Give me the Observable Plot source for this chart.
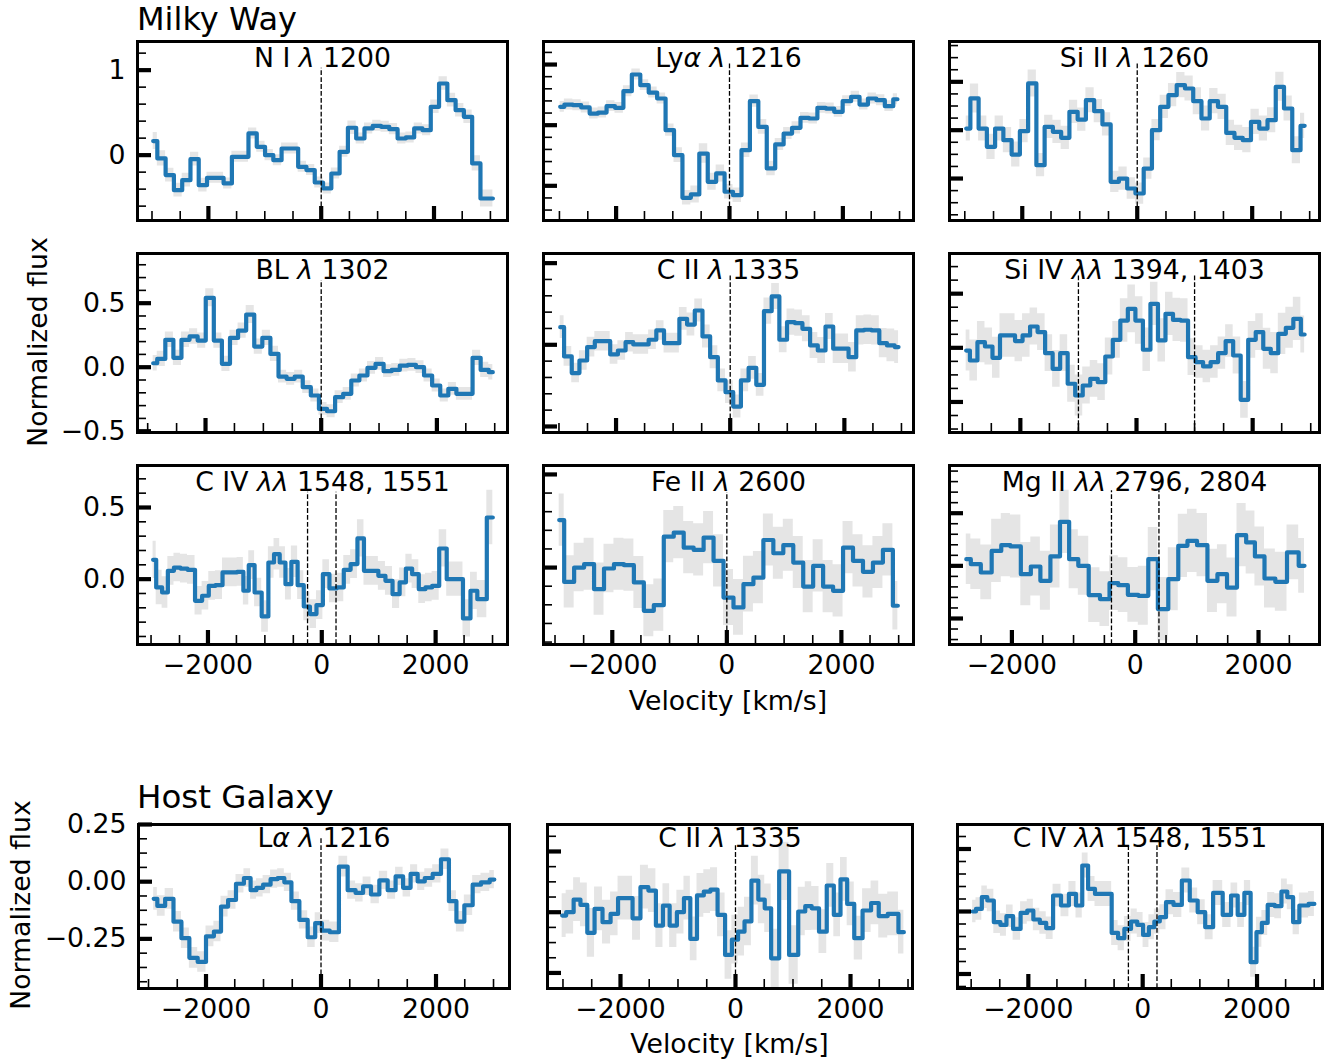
<!DOCTYPE html>
<html><head><meta charset="utf-8">
<script src="https://cdn.jsdelivr.net/npm/d3@7"></script>
<script src="https://cdn.jsdelivr.net/npm/@observablehq/plot@0.6"></script>
<style>
body{margin:0;background:#fff;}
#page{position:relative;width:1339px;height:1063px;overflow:hidden;background:#fff;font-family:"DejaVu Sans";color:#000;}
.panel{position:absolute;}
.panel svg{overflow:visible;display:block;}
</style></head><body><div id="page"></div>
<script>
// ---------- tick values ----------
const xMajorTicks = [-2000, 0, 2000];
const xMinorTicks = [-3000, -2500, -1500, -1000, -500, 500, 1000, 1500, 2500, 3000];

// ---------- Milky Way: N I 1200 ----------
const vNI = [-2979,-2832,-2685,-2538,-2391,-2245,-2098,-1951,-1804,-1657,-1510,-1363,-1216,-1069,-922,-776,-629,-482,-335,-188,-41,106,253,400,547,694,840,987,1134,1281,1428,1575,1722,1869,2016,2163,2310,2456,2603,2750,2897,3044];
const fNI = [0.165,-0.039,-0.235,-0.412,-0.294,-0.047,-0.353,-0.267,-0.267,-0.333,-0.020,-0.020,0.255,0.098,0.000,-0.059,0.078,0.078,-0.137,-0.176,-0.322,-0.392,-0.216,0.039,0.322,0.196,0.314,0.345,0.333,0.306,0.196,0.208,0.314,0.294,0.569,0.843,0.647,0.529,0.451,-0.098,-0.510,-0.510];
const eNI = [.1,.09,.08,.08,.08,.08,.08,.065,.065,.065,.065,.065,.065,.065,.065,.065,.065,.065,.065,.065,.065,.065,.065,.065,.08,.065,.065,.065,.065,.065,.065,.065,.065,.065,.08,.08,.08,.08,.08,.09,.1,.1];
const linesNI = [0];

// ---------- Milky Way: Ly alpha 1216 ----------
const vLya = [-2987,-2838,-2690,-2541,-2392,-2243,-2094,-1946,-1797,-1648,-1499,-1351,-1202,-1053,-904,-756,-607,-458,-309,-161,-12,137,286,434,583,732,881,1029,1178,1327,1476,1625,1773,1922,2071,2220,2368,2517,2666,2815,2963];
const fLya = [0.651,0.670,0.665,0.646,0.596,0.604,0.657,0.643,0.780,0.918,0.830,0.769,0.720,0.459,0.253,-0.099,-0.071,0.266,0.033,0.102,-0.049,-0.077,0.294,0.698,0.486,0.143,0.341,0.431,0.478,0.560,0.555,0.643,0.637,0.610,0.698,0.734,0.670,0.720,0.706,0.657,0.714];
const eLya = [.045,.045,.045,.045,.045,.045,.045,.045,.045,.045,.045,.045,.045,.05,.06,.06,.07,.08,.07,.07,.06,.06,.06,.05,.06,.06,.05,.05,.05,.045,.045,.045,.045,.045,.045,.045,.045,.045,.045,.045,.045];
const linesLya = [0];

// ---------- Milky Way: Si II 1260 ----------
const vSiII = [-2975,-2831,-2688,-2544,-2401,-2257,-2113,-1970,-1826,-1683,-1539,-1395,-1252,-1108,-965,-821,-677,-534,-390,-247,-103,41,184,328,471,615,759,902,1046,1189,1333,1477,1620,1764,1907,2051,2195,2338,2482,2625,2769,2913];
const fSiII = [0.017,0.328,0.017,-0.172,0.017,-0.103,-0.252,-0.010,0.483,-0.362,0.034,-0.017,-0.079,0.190,0.110,0.310,0.197,0.059,-0.534,-0.500,-0.603,-0.655,-0.397,0.000,0.241,0.362,0.466,0.431,0.300,0.121,0.300,0.241,-0.028,-0.079,-0.103,0.086,0.017,0.103,0.448,0.224,-0.207,0.045];
const eSiII = [.13,.15,.13,.13,.13,.13,.13,.12,.14,.12,.12,.12,.12,.12,.12,.13,.12,.12,.11,.12,.11,.11,.11,.11,.12,.12,.13,.13,.14,.13,.13,.13,.13,.13,.13,.13,.13,.13,.15,.13,.14,.13];
const linesSiII = [0];

// ---------- Milky Way: BL 1302 ----------
const vBL = [-2905,-2765,-2625,-2486,-2346,-2206,-2066,-1926,-1787,-1647,-1507,-1367,-1227,-1088,-948,-808,-668,-528,-389,-249,-109,31,171,310,450,590,730,870,1009,1149,1289,1429,1569,1708,1848,1988,2128,2268,2407,2547,2687,2827,2967];
const fBL = [0.031,0.065,0.214,0.073,0.214,0.240,0.208,0.542,0.208,0.026,0.229,0.286,0.411,0.161,0.229,0.104,-0.073,-0.091,-0.073,-0.156,-0.221,-0.326,-0.344,-0.234,-0.208,-0.104,-0.065,-0.005,0.026,-0.031,-0.021,0.013,0.018,0.000,-0.065,-0.143,-0.221,-0.169,-0.208,-0.208,0.073,-0.021,-0.039];
const eBL = [.06,.06,.06,.06,.06,.06,.06,.07,.06,.06,.06,.06,.07,.06,.06,.06,.05,.05,.05,.05,.05,.05,.05,.05,.05,.05,.05,.05,.05,.05,.05,.05,.05,.05,.05,.05,.05,.05,.05,.05,.06,.06,.06];
const linesBL = [0];

// ---------- Milky Way: C II 1335 ----------
const vCII = [-2978,-2843,-2709,-2574,-2439,-2305,-2170,-2035,-1900,-1766,-1631,-1496,-1362,-1227,-1092,-958,-823,-688,-553,-419,-284,-149,-15,120,255,390,524,659,794,928,1063,1198,1332,1467,1602,1737,1871,2006,2141,2275,2410,2545,2679,2814,2949];
const fCII = [0.108,-0.071,-0.173,-0.096,-0.014,0.022,0.022,-0.059,-0.035,0.016,0.002,0.002,0.031,0.088,0.010,0.010,0.159,0.124,0.210,0.051,-0.076,-0.218,-0.290,-0.378,-0.218,-0.141,-0.245,0.206,0.296,0.031,0.139,0.133,0.098,-0.004,-0.035,0.112,-0.024,-0.024,-0.076,0.088,0.092,0.088,0.010,-0.004,-0.014];
const eCII = [.07,.06,.06,.06,.06,.06,.06,.06,.06,.06,.06,.06,.06,.06,.06,.06,.07,.07,.07,.07,.07,.07,.07,.07,.07,.07,.07,.08,.08,.08,.08,.08,.08,.08,.08,.08,.09,.09,.09,.09,.09,.09,.09,.10,.10];
const linesCII = [0];

// ---------- Milky Way: Si IV 1394, 1403 ----------
const vSiIV = [-2933,-2804,-2674,-2545,-2415,-2286,-2156,-2027,-1897,-1768,-1638,-1509,-1379,-1250,-1120,-991,-861,-732,-602,-473,-343,-214,-84,46,175,305,434,564,693,823,952,1082,1211,1341,1470,1600,1729,1859,1988,2118,2247,2377,2506,2636,2765,2895];
const fSiIV = [-0.025,-0.117,0.052,0.012,-0.092,0.114,0.114,0.062,0.114,0.197,0.145,-0.049,-0.194,-0.049,-0.332,-0.440,-0.348,-0.286,-0.317,-0.080,0.074,0.252,0.360,0.252,-0.018,0.406,0.068,0.314,0.258,0.252,-0.086,-0.132,-0.172,-0.132,-0.049,0.062,-0.071,-0.480,0.074,0.145,-0.009,-0.049,0.129,0.185,0.268,0.123];
const eSiIV = [.19,.19,.19,.17,.19,.2,.2,.19,.2,.17,.17,.17,.17,.17,.17,.19,.17,.17,.17,.17,.17,.2,.22,.22,.2,.2,.2,.2,.2,.2,.17,.15,.15,.15,.15,.15,.17,.17,.17,.17,.19,.19,.19,.19,.2,.17];
const linesSiIV = [-1000, 1000];

// ---------- Milky Way: C IV 1548, 1551 ----------
const vCIV = [-2964,-2855,-2756,-2653,-2542,-2425,-2293,-2161,-2044,-1927,-1810,-1678,-1546,-1429,-1327,-1239,-1122,-990,-887,-791,-688,-589,-480,-369,-264,-152,-35,73,196,328,445,568,685,797,928,1060,1177,1309,1426,1529,1646,1763,1880,1997,2129,2261,2407,2554,2671,2794,3005];
const fCIV = [0.135,-0.058,-0.093,0.058,0.081,0.074,0.065,-0.151,-0.116,-0.047,-0.042,0.047,0.047,0.051,-0.081,0.098,-0.093,-0.260,0.116,0.174,0.116,-0.035,0.121,-0.042,-0.191,-0.244,-0.181,0.035,-0.065,-0.058,0.065,0.105,0.284,0.058,0.058,0.023,-0.012,-0.105,-0.023,0.074,0.035,-0.070,-0.058,-0.047,0.214,0.000,0.000,-0.274,-0.081,-0.140,0.430];
const eCIV = [.13,.12,.11,.1,.1,.1,.1,.1,.1,.1,.1,.1,.1,.1,.1,.1,.1,.11,.11,.11,.11,.11,.11,.1,.1,.1,.1,.1,.1,.1,.1,.1,.13,.1,.1,.1,.1,.1,.1,.1,.1,.1,.1,.1,.13,.12,.12,.13,.13,.13,.19];
const linesCIV = [-250, 250];

// ---------- Milky Way: Fe II 2600 ----------
const vFeII = [-2927,-2753,-2579,-2405,-2231,-2058,-1884,-1710,-1536,-1362,-1188,-1014,-840,-666,-492,-319,-145,29,203,377,551,725,899,1073,1247,1420,1594,1768,1942,2116,2290,2464,2638,2812,2986];
const fFeII = [0.255,-0.077,0.000,0.018,-0.116,-0.005,0.018,0.013,-0.080,-0.232,-0.202,0.166,0.188,0.107,0.095,0.161,0.036,-0.161,-0.214,-0.089,-0.054,0.148,0.077,0.120,0.027,-0.102,0.009,-0.102,-0.125,0.107,0.036,-0.023,0.027,0.095,-0.205];
const eFeII = [.14,.14,.13,.14,.14,.13,.14,.14,.14,.14,.14,.14,.14,.14,.14,.14,.14,.15,.15,.15,.14,.14,.14,.14,.14,.14,.14,.14,.14,.14,.14,.14,.14,.14,.13];
const linesFeII = [0];

// ---------- Milky Way: Mg II 2796, 2804 ----------
const vMgII = [-2740,-2592,-2416,-2240,-2105,-1943,-1767,-1619,-1457,-1294,-1146,-997,-849,-659,-484,-349,-200,-38,138,286,449,624,773,922,1084,1259,1408,1570,1732,1867,2016,2178,2367,2557,2746];
const fMgII = [0.063,0.016,-0.063,0.142,0.196,0.184,-0.079,-0.006,-0.142,0.089,0.418,0.063,0.000,-0.278,-0.316,-0.165,-0.184,-0.275,-0.285,0.063,-0.411,-0.127,0.190,0.237,0.196,-0.142,-0.079,-0.206,0.291,0.222,0.089,-0.120,-0.152,0.127,0.000];
const eMgII = [.24,.24,.26,.3,.3,.3,.3,.28,.28,.3,.3,.28,.28,.26,.26,.26,.26,.26,.28,.3,.3,.3,.3,.3,.3,.3,.28,.28,.3,.3,.28,.28,.28,.26,.26];
const linesMgII = [-385, 385];

// ---------- Host Galaxy: L alpha 1216 ----------
const vHLa = [-2910,-2783,-2638,-2493,-2362,-2217,-2072,-1928,-1797,-1681,-1551,-1406,-1275,-1174,-1072,-942,-812,-696,-580,-449,-304,-159,-43,72,232,391,536,667,797,942,1087,1232,1362,1493,1623,1739,1870,2014,2159,2290,2420,2565,2710,2855,3014];
const fHLa = [-0.075,-0.106,-0.075,-0.175,-0.247,-0.333,-0.351,-0.239,-0.218,-0.109,-0.080,-0.009,0.016,-0.037,-0.027,-0.013,0.011,0.016,-0.003,-0.085,-0.167,-0.243,-0.181,-0.214,-0.221,0.066,-0.037,-0.049,-0.020,-0.056,0.006,-0.037,0.023,-0.027,0.034,0.001,0.016,0.034,0.098,-0.085,-0.175,-0.103,-0.013,-0.003,0.009];
const eHLa = [.05,.045,.045,.045,.045,.045,.045,.045,.045,.045,.04,.04,.04,.04,.04,.04,.04,.04,.04,.04,.04,.045,.045,.045,.045,.045,.04,.04,.04,.04,.04,.04,.04,.04,.04,.04,.04,.04,.045,.045,.045,.045,.04,.04,.04];
const linesHLa = [0];

// ---------- Host Galaxy: C II 1335 ----------
const vHCII = [-3014,-2875,-2754,-2638,-2516,-2385,-2240,-2104,-1980,-1855,-1725,-1580,-1449,-1319,-1203,-1087,-951,-841,-730,-609,-493,-377,-246,-116,-9,99,215,339,455,562,678,841,1023,1159,1267,1383,1522,1652,1768,1884,2000,2130,2290,2426,2556,2739,2928];
const fHCII = [-0.014,0.000,0.052,0.030,-0.085,0.014,-0.041,-0.007,0.058,0.058,-0.025,0.103,0.089,-0.055,0.027,-0.055,0.000,0.058,-0.110,0.069,0.085,0.093,-0.011,-0.176,-0.113,-0.080,-0.038,0.130,0.052,0.016,-0.190,0.168,-0.176,0.003,0.025,0.016,-0.080,0.110,-0.011,0.135,0.034,-0.107,0.007,0.038,-0.016,-0.007,-0.082];
const eHCII = [.09,.09,.09,.09,.1,.09,.09,.09,.09,.09,.09,.09,.09,.09,.09,.09,.09,.09,.09,.09,.09,.09,.09,.1,.1,.1,.1,.1,.1,.1,.12,.12,.12,.1,.1,.09,.09,.09,.09,.09,.09,.09,.09,.09,.09,.09,.09];
const linesHCII = [0];

// ---------- Host Galaxy: C IV 1548, 1551 ----------
const vHCIV = [-2974,-2857,-2770,-2665,-2542,-2434,-2332,-2201,-2070,-1968,-1857,-1741,-1633,-1501,-1356,-1225,-1108,-1006,-904,-764,-604,-481,-379,-262,-146,-44,58,160,248,350,466,612,758,889,1035,1152,1312,1487,1604,1720,1837,1939,2041,2128,2245,2376,2478,2580,2682,2799,3003];
const fHCIV = [0,0.021,0.115,0.088,-0.085,-0.107,-0.037,-0.139,-0.011,0.008,-0.064,-0.091,-0.133,0.128,0.048,0.141,0.048,0.368,0.181,0.141,0.141,-0.171,-0.213,-0.139,-0.080,-0.107,-0.187,-0.125,-0.080,-0.045,0.075,0.053,0.248,0.088,-0.005,-0.125,0.149,-0.027,0.128,-0.027,0.149,-0.405,-0.165,-0.091,0.053,0.043,0.160,0.115,-0.085,0.048,0.061];
const eHCIV = [.09,.09,.09,.09,.09,.09,.09,.09,.09,.09,.09,.09,.09,.09,.09,.1,.1,.1,.1,.1,.1,.1,.1,.1,.1,.1,.1,.1,.1,.1,.1,.1,.1,.1,.1,.1,.1,.1,.1,.1,.1,.12,.12,.1,.1,.1,.1,.1,.1,.1,.1];
const linesHCIV = [-250, 250];

// ---------- panel titles ----------
const titles = ["N I λ 1200","Lyα λ 1216","Si II λ 1260","BL λ 1302","C II λ 1335","Si IV λλ 1394, 1403","C IV λλ 1548, 1551","Fe II λ 2600","Mg II λλ 2796, 2804","Lα λ 1216","C II λ 1335","C IV λλ 1548, 1551"];

// ---------- layout (frame boxes in px) ----------
const rowBoxes = [{y:41,h:179},{y:253,h:179},{y:465,h:179}];
const colBoxes = [{x:137,w:370},{x:543,w:370},{x:949,w:370}];
const hostRow = {y:824,h:164};
const hostCols = [{x:137.5,w:371},{x:547,w:365},{x:956.5,w:365}];

const panels = [
  {v:vNI,f:fNI,e:eNI,lines:linesNI,t:0,box:[colBoxes[0],rowBoxes[0]],xd:[-3257,3303],yd:[-0.769,1.337],yMajor:[0,1],yStep:0.2,yFmt:"d",top:0.85,showX:false,showY:true},
  {v:vLya,f:fLya,e:eLya,lines:linesLya,t:1,box:[colBoxes[1],rowBoxes[0]],xd:[-3281,3246],yd:[-0.286,1.19],yMajor:[0,0.5,1],yStep:0.1,top:0.877},
  {v:vSiII,f:fSiII,e:eSiII,lines:linesSiII,t:2,box:[colBoxes[2],rowBoxes[0]],xd:[-3266,3171],yd:[-0.934,0.917],yMajor:[-0.5,0,0.5],yStep:0.125,top:0.877},
  {v:vBL,f:fBL,e:eBL,lines:linesBL,t:3,box:[colBoxes[0],rowBoxes[1]],xd:[-3176,3221],yd:[-0.51,0.888],yMajor:[-0.5,0,0.5],yStep:0.1,yFmt:".1f",top:0.849,showY:true},
  {v:vCII,f:fCII,e:eCII,lines:linesCII,t:4,box:[colBoxes[1],rowBoxes[1]],xd:[-3271,3211],yd:[-0.537,0.559],yMajor:[-0.5,0,0.5],yStep:0.1,top:0.877},
  {v:vSiIV,f:fSiIV,e:eSiIV,lines:linesSiIV,t:5,box:[colBoxes[2],rowBoxes[1]],xd:[-3220,3151],yd:[-0.782,0.871],yMajor:[-0.5,0,0.5],yStep:0.125,top:0.877},
  {v:vCIV,f:fCIV,e:eCIV,lines:linesCIV,t:6,box:[colBoxes[0],rowBoxes[2]],xd:[-3238,3263],yd:[-0.456,0.793],yMajor:[0,0.5],yStep:0.1,yFmt:".1f",top:0.85,showX:true,showY:true},
  {v:vFeII,f:fFeII,e:eFeII,lines:linesFeII,t:7,box:[colBoxes[1],rowBoxes[2]],xd:[-3201,3259],yd:[-0.413,0.548],yMajor:[0,0.5],yStep:0.1,top:0.849,showX:true},
  {v:vMgII,f:fMgII,e:eMgII,lines:linesMgII,t:8,box:[colBoxes[2],rowBoxes[2]],xd:[-3012,2989],yd:[-0.747,0.953],yMajor:[-0.5,0,0.5],yStep:0.1,top:0.859,showX:true},
  {v:vHLa,f:fHLa,e:eHLa,lines:linesHLa,t:9,box:[hostCols[0],hostRow],xd:[-3174,3278],yd:[-0.467,0.25],yMajor:[-0.25,0,0.25],yStep:0.0625,yFmt:".2f",top:0.916,showX:true,showY:true,host:true},
  {v:vHCII,f:fHCII,e:eHCII,lines:linesHCII,t:10,box:[hostCols[1],hostRow],xd:[-3269,3078],yd:[-0.314,0.361],yMajor:[-0.25,0,0.25],yStep:0.0625,top:0.876,showX:true,host:true},
  {v:vHCIV,f:fHCIV,e:eHCIV,lines:linesHCIV,t:11,box:[hostCols[2],hostRow],xd:[-3239,3145],yd:[-0.616,0.696],yMajor:[-0.5,0,0.5],yStep:0.1,top:0.882,showX:true,host:true}
];

const FS = 26.7;
const page = document.getElementById("page");

function italicGreek(svg) {
  svg.querySelectorAll("text").forEach(t => {
    const s = t.textContent;
    if (!/[αλ]/.test(s)) return;
    while (t.firstChild) t.removeChild(t.firstChild);
    s.split(/([αλ]+)/).forEach(part => {
      if (!part) return;
      const ts = document.createElementNS("http://www.w3.org/2000/svg", "tspan");
      ts.textContent = part;
      if (/[αλ]/.test(part)) ts.setAttribute("font-style", "italic");
      t.appendChild(ts);
    });
  });
}

panels.forEach(p => {
  const [bx, by] = p.box;
  const W = bx.w, H = by.h;
  const mL = 80, mR = 12, mT = 12, mB = 50;
  const rows = p.v.map((v, i) => ({v, f: p.f[i], lo: p.f[i] - p.e[i], hi: p.f[i] + p.e[i]}));
  const [y0, y1] = p.yd;
  const eps = 1e-9;
  const inX = t => t >= p.xd[0] && t <= p.xd[1];
  const inY = t => t >= y0 - 1e-3 && t <= y1 + 1e-3;
  const yMinor = [];
  for (let k = Math.ceil(y0 / p.yStep - eps); k * p.yStep <= y1 + eps; k++) {
    const t = +(k * p.yStep).toFixed(6);
    if (!p.yMajor.some(m => Math.abs(m - t) < 1e-6)) yMinor.push(t);
  }
  const lineTop = y0 + p.top * (y1 - y0);
  const marks = [
    Plot.areaY(rows, {x: "v", y1: "lo", y2: "hi", curve: "step", fill: "#e5e5e5"}),
    Plot.line(rows, {x: "v", y: "f", curve: "step", stroke: "#1f77b4", strokeWidth: 4.2}),
    Plot.ruleX(p.lines, {x: d => d, y1: y0, y2: lineTop, stroke: "black", strokeWidth: 1.3, strokeDasharray: "4.8,2.1"}),
    Plot.text([titles[p.t]], {text: d => d, frameAnchor: "top", lineAnchor: "top", dy: p.host ? 4 : 6.5, fontSize: FS, fill: "black"}),
    Plot.axisX(xMinorTicks.filter(inX), {tickSize: -9, strokeWidth: 1.6, fill: "none", label: null}),
    Plot.axisX(xMajorTicks.filter(inX), {tickSize: -14, strokeWidth: 4.2, fill: "none", label: null}),
    Plot.axisY(yMinor.filter(inY), {tickSize: -9, strokeWidth: 1.6, fill: "none", label: null}),
    Plot.axisY(p.yMajor.filter(inY), {tickSize: -14, strokeWidth: 4.2, fill: "none", label: null})
  ];
  if (p.showX) marks.push(Plot.axisX(xMajorTicks.filter(inX), {tickSize: 0, tickPadding: 11, tickFormat: d3.format("d"), label: null, fontSize: FS, fill: "black"}));
  if (p.showY) marks.push(Plot.axisY(p.yMajor.filter(inY), {tickSize: 0, tickPadding: 12, tickFormat: d3.format(p.yFmt), label: null, fontSize: FS, fill: "black"}));
  marks.push(Plot.frame({stroke: "black", strokeWidth: 3}));

  const svg = Plot.plot({
    width: W + mL + mR, height: H + mT + mB,
    marginLeft: mL, marginRight: mR, marginTop: mT, marginBottom: mB,
    x: {domain: p.xd, label: null},
    y: {domain: p.yd, label: null},
    style: {fontFamily: "DejaVu Sans", fontSize: FS + "px", background: "transparent", color: "black", overflow: "visible"},
    marks
  });
  italicGreek(svg);
  const div = document.createElement("div");
  div.className = "panel";
  div.style.left = (bx.x - mL) + "px";
  div.style.top = (by.y - mT) + "px";
  div.style.width = (W + mL + mR) + "px";
  div.appendChild(svg);
  page.appendChild(div);
});

// ---------- figure-level labels ----------
const overlay = d3.create("svg")
  .attr("width", 1339).attr("height", 1063)
  .style("position", "absolute").style("left", "0px").style("top", "0px")
  .style("pointer-events", "none")
  .attr("font-family", "DejaVu Sans").attr("fill", "black");
const labels = [
  {text: "Milky Way", x: 137, y: 30, size: 32, anchor: "start", rot: 0},
  {text: "Host Galaxy", x: 137, y: 808, size: 32.5, anchor: "start", rot: 0},
  {text: "Normalized flux", x: 47, y: 342, size: FS, anchor: "middle", rot: -90},
  {text: "Normalized flux", x: 30, y: 905, size: FS, anchor: "middle", rot: -90},
  {text: "Velocity [km/s]", x: 728, y: 710, size: FS, anchor: "middle", rot: 0},
  {text: "Velocity [km/s]", x: 729.5, y: 1053, size: FS, anchor: "middle", rot: 0}
];
overlay.selectAll("text").data(labels).join("text")
  .attr("transform", d => `translate(${d.x},${d.y}) rotate(${d.rot})`)
  .attr("text-anchor", d => d.anchor)
  .attr("font-size", d => d.size)
  .text(d => d.text);
page.appendChild(overlay.node());
</script></body></html>
